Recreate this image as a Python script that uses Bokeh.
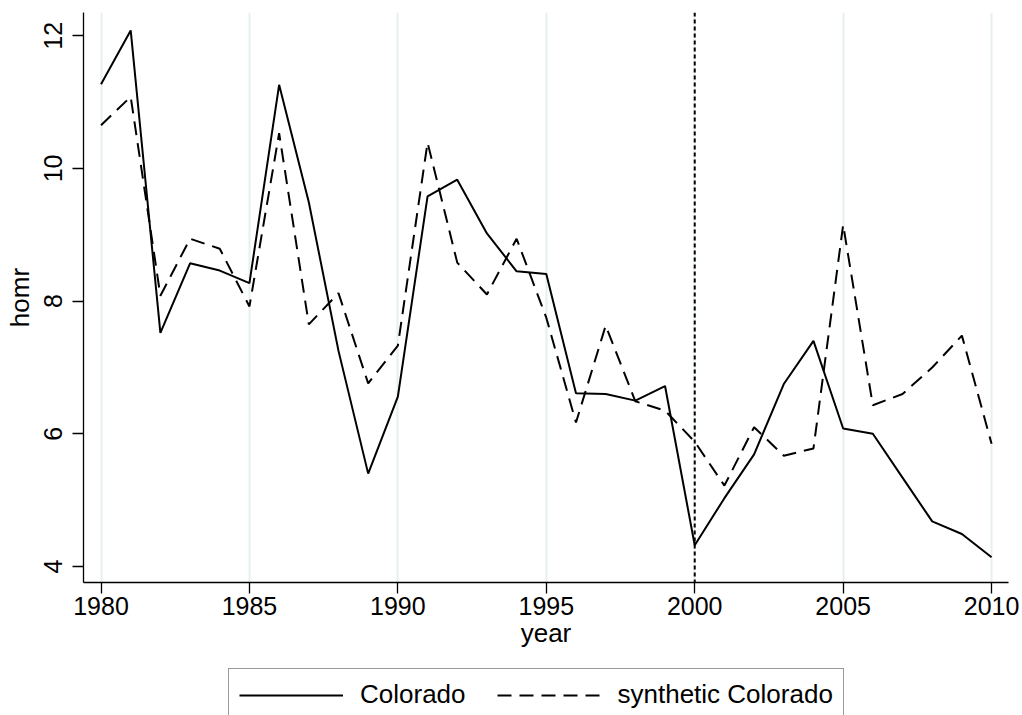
from bokeh.plotting import figure
from bokeh.layouts import column
from bokeh.models import Range1d, FixedTicker, Span, Legend, LegendItem
from bokeh.embed import file_html
from bokeh.resources import INLINE

# Homicide rate, Colorado vs. its synthetic control, 1980-2010
years = list(range(1980, 2011))
colorado = [11.27, 12.08, 7.52, 8.57, 8.46, 8.27, 11.26, 9.49, 7.25, 5.40,
            6.56, 9.58, 9.83, 9.02, 8.45, 8.41, 6.61, 6.60, 6.50, 6.72,
            4.32, 5.03, 5.69, 6.75, 7.40, 6.08, 6.00, 5.34, 4.68, 4.49, 4.14]
synthetic = [10.65, 11.08, 8.08, 8.94, 8.79, 7.92, 10.53, 7.65, 8.12, 6.76,
             7.33, 10.39, 8.58, 8.10, 8.94, 7.75, 6.17, 7.63, 6.49, 6.35,
             5.88, 5.22, 6.10, 5.67, 5.78, 9.15, 6.43, 6.60, 7.00, 7.48, 5.85]
series_labels = ["Colorado", "synthetic Colorado"]
x_ticks = [1980, 1985, 1990, 1995, 2000, 2005, 2010]
y_ticks = [4, 6, 8, 10, 12]
treatment_year = 2000

FONT = "Liberation Sans"
SYNTH_DASH = "14 8"
X_RANGE = (1979.41, 2010.57)
Y_RANGE = (3.759, 12.35)

p = figure(width=1022, height=659, output_backend="svg", toolbar_location=None,
           x_range=Range1d(*X_RANGE), y_range=Range1d(*Y_RANGE),
           min_border_left=83, min_border_right=14, min_border_top=12,
           min_border_bottom=77)
p.outline_line_color = None
p.background_fill_color = "white"
p.border_fill_color = "white"

# axes
for ax in (p.xaxis[0], p.yaxis[0]):
    ax.axis_line_color = "black"
    ax.axis_line_width = 1.3
    ax.major_tick_line_color = "black"
    ax.major_tick_line_width = 1.3
    ax.major_tick_out = 11
    ax.major_tick_in = 0
    ax.minor_tick_line_color = None
    ax.major_label_text_font = FONT
    ax.major_label_text_font_size = "25px"
    ax.major_label_text_color = "black"
    ax.axis_label_text_font = FONT
    ax.axis_label_text_font_size = "26px"
    ax.axis_label_text_font_style = "normal"
    ax.axis_label_text_color = "black"

p.xaxis.ticker = FixedTicker(ticks=x_ticks)
p.yaxis.ticker = FixedTicker(ticks=y_ticks)
p.xaxis.axis_label = "year"
p.yaxis.axis_label = "homr"
p.xaxis.major_label_standoff = 3
p.xaxis.axis_label_standoff = 0
p.yaxis.major_label_orientation = "vertical"
p.yaxis.major_label_standoff = 10
p.yaxis.axis_label_standoff = 7

# grid: light vertical lines only
p.xgrid.ticker = FixedTicker(ticks=x_ticks)
p.xgrid.grid_line_color = "#E6EFF1"
p.xgrid.grid_line_width = 2
p.ygrid.grid_line_color = None

# intervention year
p.add_layout(Span(location=treatment_year, dimension="height",
                  line_color="black", line_width=2, line_dash="4 3"))

p.line(years, colorado, line_color="black", line_width=2)
p.line(years, synthetic, line_color="black", line_width=2,
       line_dash=SYNTH_DASH)

# legend strip underneath the plot; its y range lies far above the data,
# so only the key box is visible in this frame
lg = figure(width=1022, height=56, output_backend="svg", toolbar_location=None,
            x_range=Range1d(*X_RANGE), y_range=Range1d(100, 101),
            min_border=0, x_axis_type=None, y_axis_type=None)
lg.outline_line_color = None
lg.grid.grid_line_color = None
lg.background_fill_color = "white"
lg.border_fill_color = "white"
k1 = lg.line(years, colorado, line_color="black", line_width=2)
k2 = lg.line(years, synthetic, line_color="black", line_width=2,
             line_dash=SYNTH_DASH)

legend = Legend(items=[LegendItem(label=series_labels[0], renderers=[k1]),
                       LegendItem(label=series_labels[1], renderers=[k2])],
                orientation="horizontal", location=(145, -6))
legend.label_text_font = FONT
legend.label_text_font_size = "26px"
legend.label_text_color = "black"
legend.glyph_width = 104
legend.label_standoff = 17
legend.spacing = 31
legend.padding = 10
legend.margin = 0
legend.border_line_color = "#333333"
legend.border_line_width = 1.3
legend.background_fill_color = "white"
legend.background_fill_alpha = 1
lg.add_layout(legend, "center")

layout = column(p, lg, spacing=0)
open("out.html", "w").write(file_html(layout, INLINE))
